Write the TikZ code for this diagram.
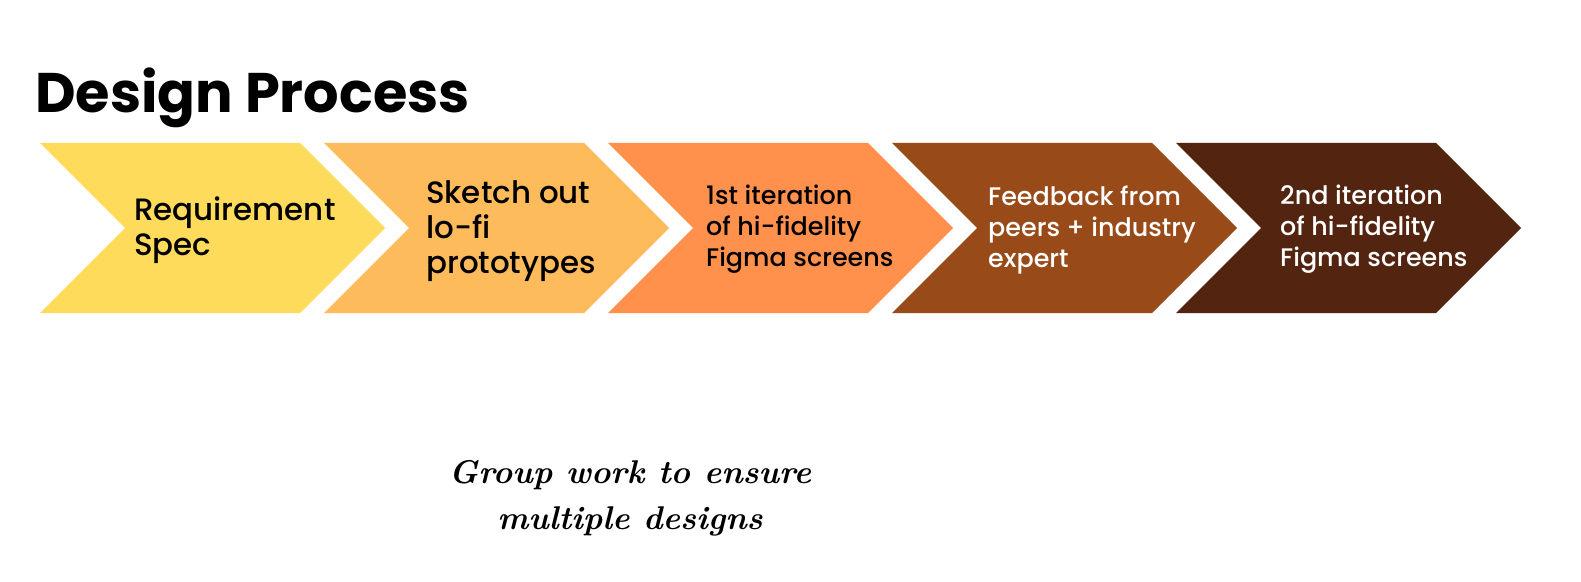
\documentclass[tikz,border=0pt]{standalone}
\usepackage{fontspec}
\setmainfont{Poppins}
\newfontfamily\medfont{Poppins Medium}
\newfontfamily\notefont{Latin Modern Roman}
\definecolor{cA}{RGB}{254,219,91}
\definecolor{cB}{RGB}{253,187,91}
\definecolor{cC}{RGB}{255,145,77}
\definecolor{cD}{RGB}{153,74,25}
\definecolor{cE}{RGB}{83,36,15}
\tikzset{
  steptext/.style={anchor=west,align=left,inner sep=0pt,font=\medfont\fontsize{31}{35}\selectfont},
  steptextsmall/.style={anchor=west,align=left,inner sep=0pt,font=\medfont\fontsize{25.5}{31}\selectfont},
}
\newcommand{\chevronat}[2]{%
  \fill[#2] (#1,143) -- ++(260,0) -- ++(85,85) -- ++(-85,85) -- (#1,313) -- ++(85,-85) -- cycle;}
\begin{document}
\begin{tikzpicture}[x=1bp,y=-1bp]
\useasboundingbox[fill=white] (0,0) rectangle (1581,582);
\node[anchor=base west,inner sep=0pt,font=\bfseries\fontsize{56}{60}\selectfont] (title) at (35,113) {Design Process};
\chevronat{40}{cA}
\chevronat{324}{cB}
\chevronat{608}{cC}
\chevronat{892}{cD}
\chevronat{1176}{cE}
\node[steptext] (s1) at (134,230) {Requirement\\Spec};
\node[steptext] (s2) at (426,231) {Sketch out\\lo-fi\\prototypes};
\node[steptextsmall] (s3) at (706,229) {1st iteration\\of hi-fidelity\\Figma screens};
\node[steptextsmall,text=white] (s4) at (988,230) {Feedback from\\peers + industry\\expert};
\node[steptextsmall,text=white] (s5) at (1280,229) {2nd iteration\\of hi-fidelity\\Figma screens};
\node[align=center,inner sep=0pt,font=\notefont\bfseries\itshape\fontsize{33}{46}\selectfont] (note) at (630,498) {Group work to ensure\\multiple designs};
\end{tikzpicture}
\end{document}
